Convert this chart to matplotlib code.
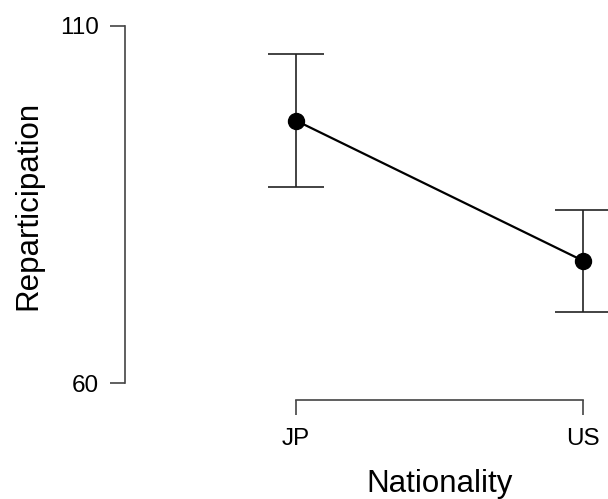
import numpy as np
import matplotlib.pyplot as plt

plt.rcParams['font.family'] = ['Liberation Sans', 'DejaVu Sans']

groups = ['JP', 'US']
means = [96.7, 77.1]
ci_low = [87.45, 69.9]
ci_high = [105.95, 84.2]
y_ticks = [60, 110]

fig = plt.figure(figsize=(6.08, 4.99), dpi=100)
W, H = 608, 499
# axes box in pixels: left 125, right 608, top 20, bottom 400
ax = fig.add_axes([125 / W, 1 - 400 / H, (608 - 125) / W, (400 - 20) / H])

x = np.arange(len(groups))
m = np.array(means)
err = np.array([m - np.array(ci_low), np.array(ci_high) - m])

ax.plot(x, m, color='black', lw=1.6, zorder=3)
ax.errorbar(x, m, yerr=err, fmt='none', ecolor='#222222', elinewidth=1.2,
            capsize=20.5, capthick=1.2, zorder=2)
ax.plot(x, m, 'o', color='black', ms=11.5, zorder=4)

ax.set_xlim((125 - 296) / 287, (608 - 296) / 287)
ax.set_ylim(60 - 17 / 7.15, 110 + 5.5 / 7.15)

for s in ['top', 'right']:
    ax.spines[s].set_visible(False)
ax.spines['left'].set_bounds(60, 110)
ax.spines['bottom'].set_bounds(0, 1)
for s in ['left', 'bottom']:
    ax.spines[s].set_color('#444444')
    ax.spines[s].set_linewidth(1.2)

ax.set_xticks(x)
ax.set_xticklabels(groups)
ax.set_yticks(y_ticks)
ax.tick_params(axis='both', length=10.5, width=1.2, color='#444444',
               labelsize=17.5, pad=8)
ax.tick_params(axis='x', pad=10)

ax.set_ylabel('Reparticipation', fontsize=22.5)
ax.set_xlabel('Nationality', fontsize=22.5)
ax.xaxis.set_label_coords((440 - 125) / (608 - 125), -(469 - 400) / 380)
ax.yaxis.set_label_coords(-(125 - 43) / (608 - 125), (400 - 205) / 380)

fig.savefig('out.png', dpi=100)
